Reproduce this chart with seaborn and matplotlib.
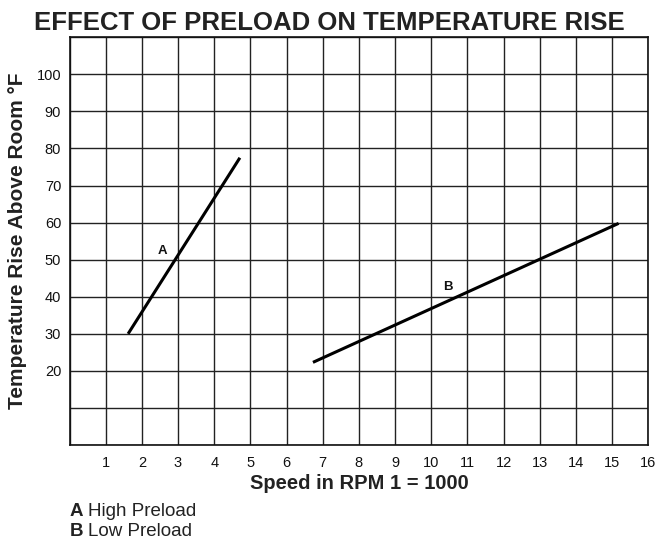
import matplotlib
matplotlib.use("Agg")
import matplotlib.pyplot as plt
import numpy as np
import pandas as pd
import seaborn as sns

# Curve end points (speed in thousands of RPM, temperature rise in °F)
curve_names = ["A", "A", "B", "B"]
speed = [1.62, 4.71, 6.73, 15.18]
temp_rise = [30.0, 77.5, 22.3, 59.8]

# Curve label anchors
label_names = ["A", "B"]
label_x = [2.56, 10.45]
label_y = [52.3, 42.5]

x_ticks = list(range(0, 17))
x_tick_labels = [""] + [str(v) for v in range(1, 17)]
y_ticks = list(range(0, 111, 10))
y_tick_labels = ["", ""] + [str(v) for v in range(20, 101, 10)] + [""]

legend_keys = ["A", "B"]
legend_text = ["High Preload", "Low Preload"]

sns.set_theme(style="white")
plt.rcParams["font.family"] = ["Liberation Sans", "DejaVu Sans"]

df = pd.DataFrame({"curve": curve_names, "speed": speed, "rise": temp_rise})

W, H = 659, 542
fig = plt.figure(figsize=(W / 100, H / 100), dpi=100)
ax = fig.add_axes([69.5 / W, 1 - 445 / H, (648.3 - 69.5) / W, (445 - 37.3) / H])

sns.lineplot(data=df, x="speed", y="rise", units="curve", estimator=None,
             color="black", linewidth=2.2, ax=ax, legend=False,
             solid_capstyle="butt", zorder=3)

ax.set_xlim(0, 16)
ax.set_ylim(0, 110)
ax.set_xticks(x_ticks)
ax.set_xticklabels(x_tick_labels)
ax.set_yticks(y_ticks)
ax.set_yticklabels(y_tick_labels)
ax.grid(True, color="#222222", linewidth=1.0)
ax.tick_params(axis="both", length=0, labelsize=10.5, colors="#111111")
ax.tick_params(axis="x", pad=8)
ax.tick_params(axis="y", pad=6)
for side in ["left", "bottom", "top", "right"]:
    ax.spines[side].set_color("#111111")
    ax.spines[side].set_linewidth(1.2)

for name, lx, ly in zip(label_names, label_x, label_y):
    ax.text(lx, ly, name, fontsize=9.5, fontweight="bold", ha="center",
            va="center", color="#111111")

ax.set_xlabel("Speed in RPM 1 = 1000", fontsize=14.5, fontweight="bold",
              color="#222222", labelpad=3)
ax.set_ylabel("Temperature Rise Above Room °F", fontsize=15,
              fontweight="bold", color="#222222", labelpad=7)

fig.text(0.5, 1 - 30 / H, "EFFECT OF PRELOAD ON TEMPERATURE RISE",
         fontsize=18.5, fontweight="bold", ha="center", va="baseline",
         color="#222222")

fig.canvas.draw()
renderer = fig.canvas.get_renderer()
for i, (key, txt) in enumerate(zip(legend_keys, legend_text)):
    y = 1 - (515.5 + 20 * i) / H
    k = fig.text(70 / W, y, key, fontsize=13.5, fontweight="bold",
                 ha="left", va="baseline", color="#222222")
    bb = k.get_window_extent(renderer)
    fig.text((bb.x1 + 5) / W, y, txt, fontsize=13.5, ha="left",
             va="baseline", color="#222222")

fig.savefig("out.png", dpi=100)
